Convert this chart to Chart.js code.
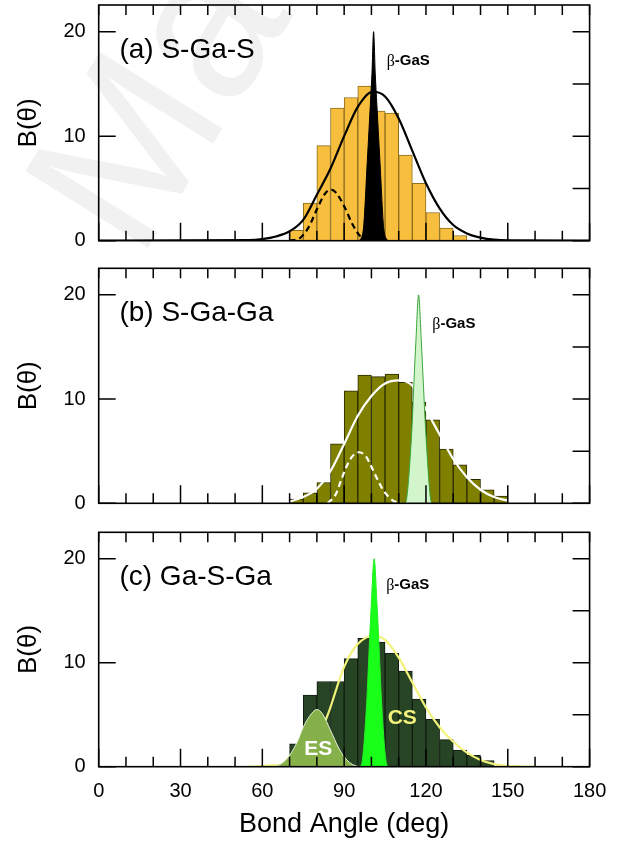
<!DOCTYPE html>
<html><head><meta charset="utf-8">
<script src="https://cdn.jsdelivr.net/npm/chart.js@4.4.1/dist/chart.umd.min.js"></script>
<style>
html,body{margin:0;padding:0;background:#fff;width:624px;height:841px;overflow:hidden;position:relative;font-family:'Liberation Sans',Arial,sans-serif}
canvas{position:absolute;left:0}
#wm{position:absolute;font-size:210px;color:#f1f1f1;transform:rotate(-58deg);transform-origin:0 0;font-family:'Liberation Sans',Arial,sans-serif;white-space:nowrap;top:160px;left:-25px}
</style></head><body>
<div id="wm">Ma</div>
<canvas id="ca" width="624" height="252" style="top:0px"></canvas>
<canvas id="cb" width="624" height="252" style="top:258px"></canvas>
<canvas id="cc" width="624" height="325" style="top:516px"></canvas>
<script>
// ---- tick labels ----
const tickLabelsX = [0, 30, 60, 90, 120, 150, 180];
const tickLabelsY = [0, 10, 20];
const minorTicksX = [10, 20, 40, 50, 70, 80, 100, 110, 130, 140, 160, 170];
const minorTicksY = [5, 15];

// ---- panel (a) S-Ga-S ----
const binsA = [72.5, 77.5, 82.5, 87.5, 92.5, 97.5, 102.5, 107.5, 112.5, 117.5, 122.5, 127.5, 132.5];
const histA = [1.0, 3.6, 9.1, 12.7, 13.7, 14.8, 12.4, 12.2, 8.2, 5.5, 2.7, 1.2, 0.5];
const fitAx = [0, 55, 60, 65, 70, 75, 80, 85, 90, 95, 100.5, 105, 110, 115, 120, 125, 130, 135, 140, 145, 150, 180];
const fitAy = [0, 0.05, 0.15, 0.4, 0.9, 2.0, 4.4, 6.9, 10.0, 12.8, 14.25, 13.8, 11.7, 8.6, 5.5, 3.1, 1.5, 0.7, 0.3, 0.1, 0.03, 0];
const dashAx = [70, 74, 77, 80, 83, 85, 87, 90, 93, 96, 99];
const dashAy = [0, 0.3, 1.3, 3.0, 4.5, 4.9, 4.6, 3.3, 1.6, 0.4, 0];
const spikeAx = [95.5, 97.0, 98.5, 99.6, 100.2, 100.8, 101.4, 102.0, 103.1, 104.6, 106.1];
const spikeAy = [0, 1.0, 7.7, 13, 16, 20, 16, 13, 7.7, 1.0, 0];

// ---- panel (b) S-Ga-Ga ----
const binsB = [72.5, 77.5, 82.5, 87.5, 92.5, 97.5, 102.5, 107.5, 112.5, 117.5, 122.5, 127.5, 132.5, 137.5, 142.5, 147.5];
const histB = [0.4, 1.0, 2.0, 5.7, 10.8, 12.3, 12.15, 12.4, 11.6, 9.7, 8.0, 5.2, 3.7, 2.3, 1.3, 0.7];
const fitBx = [70, 75, 80, 85, 90, 95, 100, 105, 110, 115, 120, 125, 130, 135, 140, 145, 150];
const fitBy = [0.15, 0.6, 1.4, 3.1, 5.7, 8.4, 10.3, 11.5, 11.8, 11.3, 9.0, 6.6, 4.25, 2.5, 1.3, 0.6, 0.25];
const dashBx = [84, 87, 89, 91, 93, 95.5, 98, 100, 102, 104, 106, 108, 111];
const dashBy = [0, 0.9, 2.3, 3.6, 4.5, 4.9, 4.5, 3.5, 2.4, 1.4, 0.7, 0.25, 0];
const spikeBx = [112.3, 112.9, 114.8, 115.6, 116.3, 117.3, 118.3, 119.0, 119.9, 121.7, 122.3];
const spikeBy = [0, 0.4, 6.96, 11.7, 15.5, 20, 15.5, 11.7, 6.96, 0.4, 0];

// ---- panel (c) Ga-S-Ga ----
const binsC = [72.5, 77.5, 82.5, 87.5, 92.5, 97.5, 102.5, 107.5, 112.5, 117.5, 122.5, 127.5, 132.5, 137.5, 142.5];
const histC = [2.2, 6.9, 8.2, 8.2, 10.4, 12.35, 12.0, 10.9, 9.2, 6.5, 4.55, 2.6, 1.6, 1.1, 0.6];
const csX = [55, 60, 65, 70, 75, 80, 84, 90, 95, 101, 105, 110, 115, 120, 125, 130, 135, 140, 145, 150, 155, 160];
const csY = [0, 0.05, 0.15, 0.3, 1.0, 2.6, 5.0, 9.6, 11.8, 12.6, 12.2, 10.5, 8.1, 5.7, 3.8, 2.4, 1.35, 0.65, 0.25, 0.08, 0.02, 0];
const esX = [64, 67, 70, 73, 75, 78, 80, 82, 85, 88, 90, 92, 94, 96];
const esY = [0, 0.3, 1.1, 2.5, 3.8, 5.1, 5.5, 5.1, 3.5, 1.8, 0.96, 0.4, 0.1, 0];
const spikeCx = [96.0, 96.7, 98.25, 99.35, 99.95, 101.0, 102.05, 102.65, 103.75, 105.3, 106.0];
const spikeCy = [0, 0.64, 6.07, 12.4, 15.6, 20, 15.6, 12.4, 6.07, 0.64, 0];

const FONT = "'Liberation Sans', Arial, sans-serif";
const pts = (xs, ys) => xs.map((x, i) => ({x, y: ys[i]}));

const framePlugin = {
  id: 'frameTicks',
  afterDatasetsDraw(chart, args, opts) {
    const {ctx, chartArea: a, scales: {x, y}} = chart;
    ctx.save();
    ctx.strokeStyle = '#000';
    ctx.lineWidth = 1.5;
    ctx.beginPath();
    tickLabelsX.concat(minorTicksX).forEach(v => {
      const px = x.getPixelForValue(v);
      const major = tickLabelsX.includes(v);
      ctx.moveTo(px, a.bottom); ctx.lineTo(px, a.bottom - (major ? 18 : 10));
      ctx.moveTo(px, a.top); ctx.lineTo(px, a.top + 10);
    });
    tickLabelsY.forEach(v => {
      const py = y.getPixelForValue(v);
      ctx.moveTo(a.left, py); ctx.lineTo(a.left + 17, py);
    });
    tickLabelsY.concat(minorTicksY).forEach(v => {
      const py = y.getPixelForValue(v);
      ctx.moveTo(a.right, py); ctx.lineTo(a.right - 17, py);
    });
    ctx.stroke();
    ctx.lineWidth = 1.6;
    ctx.strokeRect(a.left, a.top, a.right - a.left, a.bottom - a.top);
    // texts
    ctx.textBaseline = 'middle';
    ctx.textAlign = 'left';
    ctx.fillStyle = '#000';
    ctx.font = '28px ' + FONT;
    ctx.fillText(opts.title, x.getPixelForValue(7.6), y.getPixelForValue(18.25));
    const bx = x.getPixelForValue(opts.beta[0]), by = y.getPixelForValue(opts.beta[1]);
    ctx.font = '16px "Liberation Serif", serif';
    ctx.fillText('\u03B2', bx, by + 1);
    const bw = ctx.measureText('\u03B2').width;
    ctx.font = 'bold 15px ' + FONT;
    ctx.fillText('-GaS', bx + bw, by);
    (opts.extra || []).forEach(t => {
      ctx.font = 'bold 21px ' + FONT;
      ctx.fillStyle = t.color;
      ctx.textAlign = 'center';
      ctx.fillText(t.text, x.getPixelForValue(t.x), y.getPixelForValue(t.y));
    });
    ctx.restore();
  }
};

function makeChart(id, datasets, opts) {
  const h = document.getElementById(id).height;
  return new Chart(document.getElementById(id), {
    type: 'bar',
    data: {datasets},
    plugins: [framePlugin],
    options: {
      responsive: false,
      animation: false,
      events: [],
      layout: {padding: {left: 0, right: 34.4, top: opts.top, bottom: 0}},
      plugins: {legend: {display: false}, tooltip: {enabled: false}, frameTicks: opts.text},
      scales: {
        x: {
          type: 'linear', min: 0, max: 180, offset: false,
          grid: {display: false, drawTicks: false}, border: {display: false},
          ticks: {display: opts.showX, stepSize: 30, autoSkip: false, maxRotation: 0, padding: 13,
                  color: '#000', font: {family: FONT, size: 20},
                  callback: v => tickLabelsX.includes(v) ? String(v) : ''},
          title: {display: opts.showX, text: 'Bond Angle (deg)', color: '#000',
                  font: {family: FONT, size: 27}, padding: {top: 0, bottom: 0}},
          afterFit: s => { s.height = h - opts.bottom; s.paddingLeft = 0; s.paddingRight = 0; }
        },
        y: {
          type: 'linear', min: 0, max: 22.55,
          grid: {display: false, drawTicks: false}, border: {display: false},
          ticks: {stepSize: 10, padding: 13, color: '#000', font: {family: FONT, size: 20},
                  callback: v => tickLabelsY.includes(v) ? String(v) : ''},
          title: {display: true, text: 'B(\u03B8)', color: '#000',
                  font: {family: FONT, size: 26}, padding: {top: 13, bottom: 0}},
          afterFit: s => { s.width = 98.7; s.paddingTop = 0; s.paddingBottom = 0; }
        }
      }
    }
  });
}

function bars(xs, ys, fill, border) {
  return {type: 'bar', data: pts(xs, ys), backgroundColor: fill, borderColor: border,
          borderWidth: 1, barPercentage: 1, categoryPercentage: 1, order: 10};
}
function line(xs, ys, o) {
  return Object.assign({type: 'line', data: pts(xs, ys), pointRadius: 0, fill: false,
          cubicInterpolationMode: 'monotone', borderWidth: 2.2}, o);
}

makeChart('ca', [
  bars(binsA, histA, '#f8bf3e', '#8c6d1e'),
  line(fitAx, fitAy, {borderColor: '#000', order: 3}),
  line(dashAx, dashAy, {borderColor: '#000', borderDash: [6, 4], order: 2}),
  line(spikeAx, spikeAy, {borderColor: '#000', backgroundColor: '#000', fill: 'origin', borderWidth: 1, order: 1})
], {top: 5, bottom: 240.7, showX: false,
    text: {title: '(a) S-Ga-S', beta: [105.6, 17.2]}});

makeChart('cb', [
  bars(binsB, histB, '#7f7f00', '#2a2a00'),
  line(fitBx, fitBy, {borderColor: '#ffffff', order: 3}),
  line(dashBx, dashBy, {borderColor: '#ffffff', borderDash: [6, 4], order: 2}),
  line(spikeBx, spikeBy, {borderColor: '#3aa53a', backgroundColor: '#d3f5cb', fill: 'origin', borderWidth: 1, order: 1})
], {top: 10.3, bottom: 245.3, showX: false,
    text: {title: '(b) S-Ga-Ga', beta: [122.3, 17.2]}});

makeChart('cc', [
  bars(binsC, histC, '#274525', '#101c10'),
  line(csX, csY, {borderColor: '#f3f37c', order: 3}),
  line(esX, esY, {borderColor: '#e8f0d8', backgroundColor: '#86b04a', fill: 'origin', borderWidth: 1, order: 2}),
  line(spikeCx, spikeCy, {borderColor: '#22ee22', backgroundColor: '#1aff1a', fill: 'origin', borderWidth: 1, order: 1})
], {top: 16.3, bottom: 250.7, showX: true,
    text: {title: '(c) Ga-S-Ga', beta: [105.4, 17.5],
           extra: [{text: 'CS', x: 111.3, y: 4.7, color: '#f3f37c'}, {text: 'ES', x: 80.5, y: 1.7, color: '#ffffff'}]}});
</script>
</body></html>
